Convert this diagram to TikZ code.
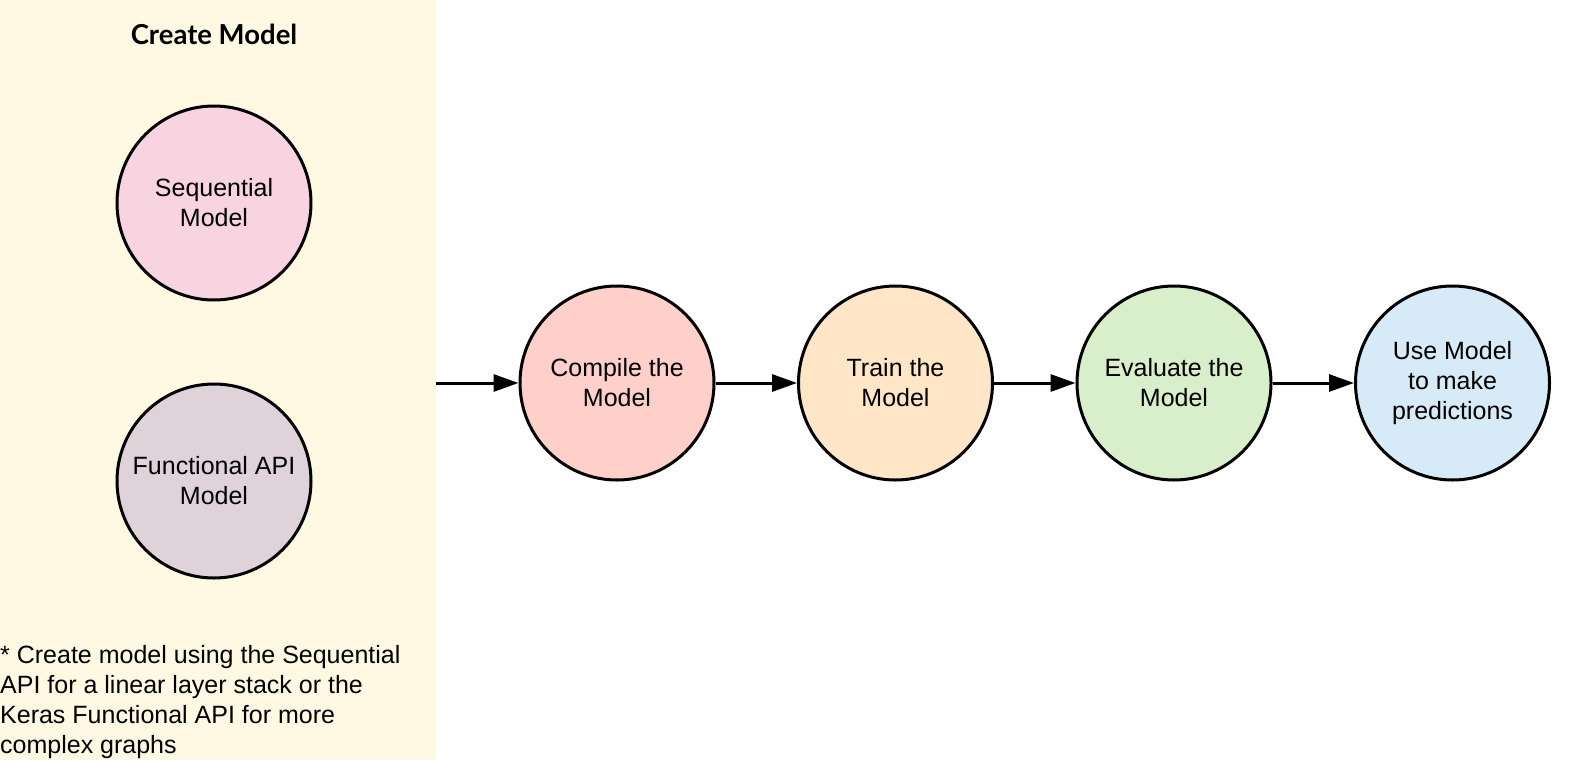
\documentclass[tikz,border=0pt]{standalone}
\usepackage{fontspec}
\setmainfont{Liberation Sans}
\newfontfamily\titlefont{Lato}
\usetikzlibrary{positioning,arrows.meta}

\definecolor{panelcream}{HTML}{FFF8E3}
\definecolor{seqpink}{HTML}{F8D3E0}
\definecolor{funcmauve}{HTML}{E0D2D9}
\definecolor{compilered}{HTML}{FFCFC9}
\definecolor{trainorange}{HTML}{FFE6C6}
\definecolor{evalgreen}{HTML}{D9EECA}
\definecolor{useblue}{HTML}{D6EBF7}

\tikzset{
    stage/.style = {circle, draw = black, line width = 3pt, minimum size = 194pt,
                    inner sep = 0pt, align = center, font = \fontsize{25}{30}\selectfont},
    flow/.style  = {line width = 3pt, -{Triangle[length = 25pt, width = 17pt]}}
}

\begin{document}
\begin{tikzpicture}[x = 1pt, y = 1pt]
    \useasboundingbox (0,0) rectangle (1570,-760);
    \fill [panelcream] (0,0) rectangle (436,-760);

    \node (title) at (214,-34) {\titlefont\bfseries\fontsize{27.5}{30}\selectfont Create Model};
    \node [stage, fill = seqpink] (sequential) at (214,-203) {Sequential\\Model};
    \node [stage, fill = funcmauve, below = 81pt of sequential] (functional) {Functional API\\Model};
    \node [anchor = north west, inner sep = 0pt, align = left, font = \fontsize{25}{30}\selectfont]
        (note) at (0,-645) {* Create model using the Sequential\\API for a linear layer stack or the\\Keras Functional API for more\\complex graphs};

    \node [stage, fill = compilered] (compile) at (617,-383) {Compile the\\Model};
    \node [stage, fill = trainorange, right = 81.5pt of compile] (train) {Train the\\Model};
    \node [stage, fill = evalgreen, right = 81.5pt of train] (evaluate) {Evaluate the\\Model};
    \node [stage, fill = useblue, right = 81.5pt of evaluate] (predict) {Use Model\\to make\\predictions};

    \coordinate (panelexit) at (436,-383);
    \draw [flow] (panelexit) -- (compile);
    \draw [flow] (compile) -- (train);
    \draw [flow] (train) -- (evaluate);
    \draw [flow] (evaluate) -- (predict);
\end{tikzpicture}
\end{document}
